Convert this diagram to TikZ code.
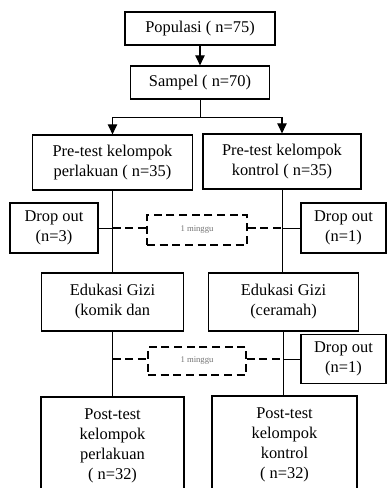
\documentclass[tikz,border=0pt]{standalone}
\usepackage{fontspec}
\setmainfont{Liberation Serif}
\usetikzlibrary{arrows.meta}

\definecolor{weekgray}{gray}{0.45}

\tikzset{
  box/.style={draw, line width=0.9pt, align=center, inner sep=1pt,
    font=\fontsize{12.3}{15}\selectfont},
  weekbox/.style={draw, line width=1.1pt, dash pattern=on 6pt off 3.5pt,
    align=center, text=weekgray, font=\fontsize{6.5}{7}\selectfont},
  arr/.style={line width=0.8pt, -{Triangle[width=7pt,length=7.5pt]}},
  link/.style={line width=0.75pt},
  dashlink/.style={line width=1.1pt, dash pattern=on 6pt off 3.5pt}
}

\begin{document}
\begin{tikzpicture}[x=0.75pt, y=-0.75pt]

% Page frame
\clip (0,0) rectangle (387,488);
\useasboundingbox (0,0) rectangle (387,488);

% Top of the chart
\node[box, minimum width=112.5pt, minimum height=24.75pt] (pop) at (200,28.5) {Populasi ( n=75)};
\node[box, minimum width=104.25pt, minimum height=24.75pt] (samp) at (200,82.5) {Sampel ( n=70)};

% Pre-test
\node[box, minimum width=120pt, minimum height=41.25pt] (preL) at (112.5,162.5) {Pre-test kelompok\\perlakuan ( n=35)};
\node[box, minimum width=118.5pt, minimum height=41.25pt] (preR) at (282,161.5) {Pre-test kelompok\\kontrol ( n=35)};

% Drop out after pre-test
\node[box, minimum width=66pt, minimum height=37.5pt] (dropL) at (54,228) {Drop out\\(n=3)};
\node[box, minimum width=63.75pt, minimum height=37.5pt] (dropR) at (343.5,228) {Drop out\\(n=1)};
\node[weekbox, minimum width=75pt, minimum height=22.5pt] (week1) at (197,230) {1 minggu};

% Education
\node[box, minimum width=106.5pt, minimum height=43.5pt] (eduL) at (112.5,302) {Edukasi Gizi\\(komik dan};
\node[box, minimum width=112.5pt, minimum height=43.5pt] (eduR) at (283.5,302) {Edukasi Gizi\\(ceramah)};

% Drop out after education
\node[weekbox, minimum width=73.5pt, minimum height=21pt] (week2) at (197,361) {1 minggu};
\node[box, minimum width=63.75pt, minimum height=36.75pt] (dropR2) at (343.5,359) {Drop out\\(n=1)};

% Post-test
\node[box, minimum width=107.25pt, minimum height=73.5pt] (postL) at (112.5,446) {Post-test\\kelompok\\perlakuan\\( n=32)};
\node[box, minimum width=108.75pt, minimum height=73.5pt] (postR) at (284.5,445) {Post-test\\kelompok\\kontrol\\( n=32)};

% Arrows
\draw[arr] (pop.south) -- (samp.north);
\draw[link] (samp.south) -- ++(0,18) coordinate (split);
\draw[arr] (split) -| (preL.north);
\draw[arr] (split) -| (preR.north);

% Trunks
\draw[link] (preL.south) -- (eduL.north);
\draw[link] (eduL.south) -- (postL.north);
\draw[link] (preR.south) -- (preR.south |- eduR.north);
\draw[link] (eduR.south) -- (eduR.south |- postR.north);

% First week
\draw[link] (dropL.east) -- (dropL.east -| preL.south);
\draw[dashlink] (dropL.east -| preL.south) -- (week1.west |- dropL.east);
\draw[dashlink] (week1.east |- dropR.west) -- (dropR.west -| preR.south);
\draw[link] (dropR.west -| preR.south) -- (dropR.west);

% Second week
\draw[dashlink] (eduL.south |- dropR2.west) -- (week2.west |- dropR2.west);
\draw[dashlink] (week2.east |- dropR2.west) -- (dropR2.west -| eduR.south);
\draw[link] (dropR2.west -| eduR.south) -- (dropR2.west);

\end{tikzpicture}
\end{document}
